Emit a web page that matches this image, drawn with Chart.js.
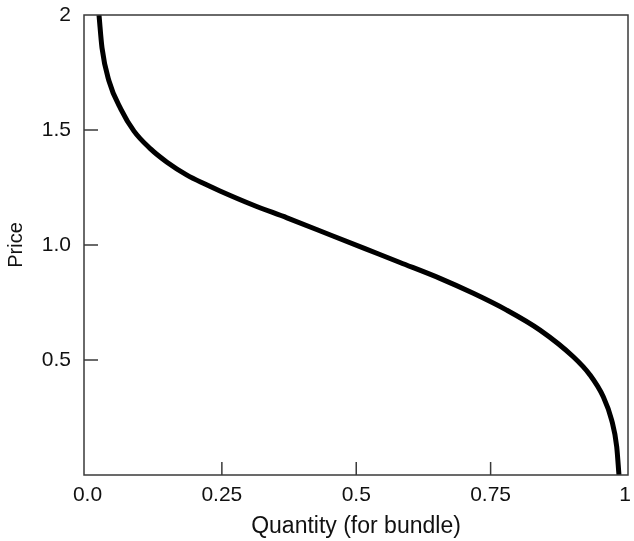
<!DOCTYPE html>
<html lang="en">
<head>
<meta charset="UTF-8" />
<title>Bundle demand</title>
<script src="https://cdn.jsdelivr.net/npm/chart.js@4.4.0/dist/chart.umd.min.js"></script>
<style>
  html, body { margin: 0; padding: 0; background: #fff; }
  #wrap { width: 634px; height: 541px; }
</style>
</head>
<body>
<div id="wrap"><canvas id="myChart" width="634" height="541"></canvas></div>
<script>
// values
var quantity = [0.0214, 0.027, 0.040, 0.0623, 0.0865, 0.1163, 0.1479, 0.1851, 0.2186, 0.2465, 0.3079, 0.3712, 0.4567, 0.5163, 0.5814, 0.6558, 0.7178, 0.7799, 0.8419, 0.9038, 0.9349, 0.9596, 0.9752, 0.9846, 0.9888];
var price    = [2.0,    1.857, 1.713, 1.590,  1.495,  1.420,  1.360,  1.304,  1.265,  1.235,  1.174,  1.118,  1.039,  0.984,  0.924,  0.855,  0.790,  0.717,  0.630,  0.514,  0.435,  0.340,  0.239,  0.123,  0.0];

var xTickValues = [0, 0.25, 0.5, 0.75, 1];
var xTickLabels = ['0.0', '0.25', '0.5', '0.75', '1'];
var yTickValues = [0.5, 1.0, 1.5, 2];
var yTickLabels = ['0.5', '1.0', '1.5', '2'];

var puntos = [];
for (var i = 0; i < quantity.length; i++) {
    puntos.push({ x: quantity[i], y: price[i] });
}

var fuente = 'Liberation Sans, Arial, Helvetica, sans-serif';

// frame around the plot plus inward tick marks (not on the frame itself)
var marco = {
    id: 'marco',
    afterDatasetsDraw: function (chart) {
        var ctx = chart.ctx;
        var a = chart.chartArea;
        var sx = chart.scales.x, sy = chart.scales.y;
        ctx.save();
        ctx.strokeStyle = '#3a3a3a';
        ctx.lineWidth = 1.5;
        ctx.strokeRect(a.left, a.top, a.right - a.left, a.bottom - a.top);
        ctx.beginPath();
        xTickValues.forEach(function (v) {
            if (v <= 0 || v >= 1) return;
            var px = sx.getPixelForValue(v);
            ctx.moveTo(px, a.bottom);
            ctx.lineTo(px, a.bottom - 13);
        });
        yTickValues.forEach(function (v) {
            if (v >= 2) return;
            var py = sy.getPixelForValue(v);
            ctx.moveTo(a.left, py);
            ctx.lineTo(a.left + 14, py);
        });
        ctx.stroke();
        ctx.restore();
    }
};

var ctx = document.getElementById('myChart').getContext('2d');
var myChart = new Chart(ctx, {
    type: 'scatter',
    data: {
        datasets: [{
            data: puntos,
            showLine: true,
            borderColor: '#000',
            borderWidth: 5,
            pointRadius: 0,
            cubicInterpolationMode: 'monotone',
            fill: false
        }]
    },
    options: {
        responsive: false,
        animation: false,
        layout: { padding: { top: 15, right: 6, left: 0, bottom: 0 } },
        plugins: { legend: { display: false }, tooltip: { enabled: false } },
        scales: {
            x: {
                type: 'linear',
                min: -0.0065,
                max: 1.0056,
                afterBuildTicks: function (scale) {
                    scale.ticks = xTickValues.map(function (v) { return { value: v }; });
                },
                afterFit: function (scale) {
                    scale.height = 66;
                    scale.paddingLeft = 0;
                    scale.paddingRight = 0;
                },
                ticks: {
                    color: '#111',
                    font: { family: fuente, size: 21 },
                    padding: 8,
                    maxRotation: 0,
                    callback: function (value, index) { return xTickLabels[index]; }
                },
                grid: { display: false, drawTicks: false },
                border: { display: false },
                title: {
                    display: true,
                    text: 'Quantity (for bundle)',
                    color: '#111',
                    font: { family: fuente, size: 23 },
                    padding: { top: 2, bottom: 1 }
                }
            },
            y: {
                type: 'linear',
                min: 0,
                max: 2,
                afterBuildTicks: function (scale) {
                    scale.ticks = yTickValues.map(function (v) { return { value: v }; });
                },
                afterFit: function (scale) {
                    scale.width = 84;
                    scale.paddingTop = 0;
                    scale.paddingBottom = 0;
                },
                ticks: {
                    color: '#111',
                    font: { family: fuente, size: 21 },
                    padding: 13,
                    callback: function (value, index) { return yTickLabels[index]; }
                },
                grid: { display: false, drawTicks: false },
                border: { display: false },
                title: {
                    display: true,
                    text: 'Price',
                    color: '#111',
                    font: { family: fuente, size: 20 },
                    padding: { top: 4, bottom: 0 }
                }
            }
        }
    },
    plugins: [marco]
});
</script>
</body>
</html>
